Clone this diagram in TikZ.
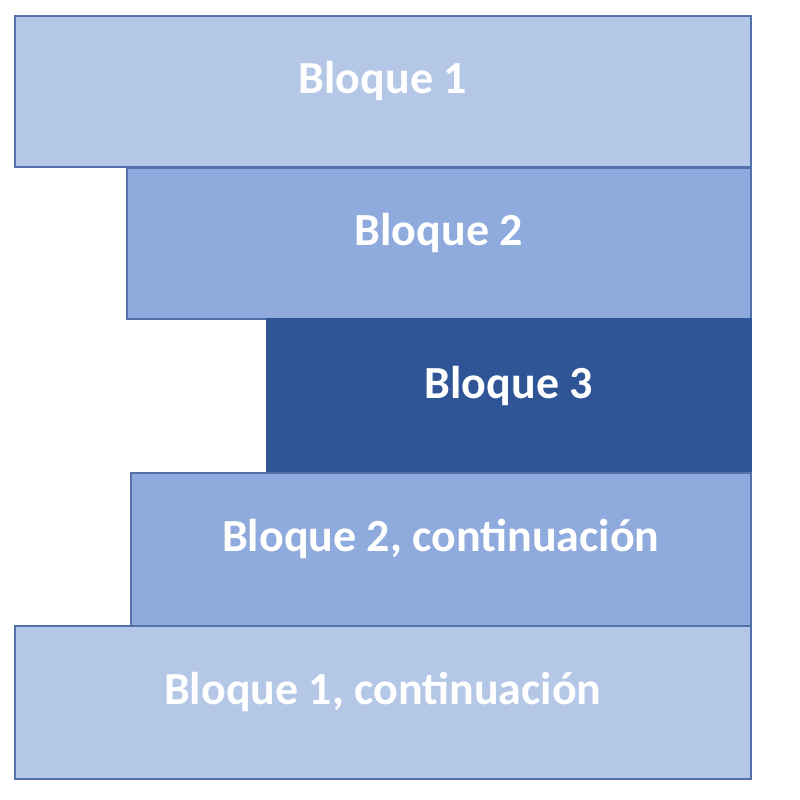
\documentclass[tikz,border=0pt]{standalone}
\usepackage{fontspec}
\setmainfont{Carlito}
\definecolor{lightblk}{HTML}{B4C7E7}
\definecolor{midblk}{HTML}{8FAADC}
\definecolor{darkblk}{HTML}{2F5597}
\definecolor{edgeblk}{RGB}{84,114,170}
\begin{document}
\begin{tikzpicture}[x=1pt,y=-1pt,
  blk/.style={rectangle, draw=edgeblk, line width=1.6pt, inner sep=0pt, anchor=north west,
    minimum height=151pt},
  lbl/.style={text=white, font=\fontsize{46}{52}\selectfont\bfseries, inner sep=0pt, yshift=10pt}]
\useasboundingbox (0,0) rectangle (800,800);
\node[blk, fill=lightblk, minimum width=736pt] (b1) at (14,15) {};
\node[blk, fill=midblk, minimum width=624pt] (b2) at (126,167) {};
\node[blk, fill=darkblk, draw=darkblk, minimum width=484pt, minimum height=154pt] (b3) at (266,318) {};
\node[blk, fill=midblk, minimum width=620pt, minimum height=153pt] (b2c) at (130,472) {};
\node[blk, fill=lightblk, minimum width=736pt, minimum height=153pt] (b1c) at (14,625) {};
\node[lbl] (t1) at (b1.center) {Bloque 1};
\node[lbl] (t2) at (b2.center) {Bloque 2};
\node[lbl] (t3) at (b3.center) {Bloque 3};
\node[lbl] (t2c) at (b2c.center) {Bloque 2, continuación};
\node[lbl] (t1c) at (b1c.center) {Bloque 1, continuación};
\end{tikzpicture}
\end{document}
